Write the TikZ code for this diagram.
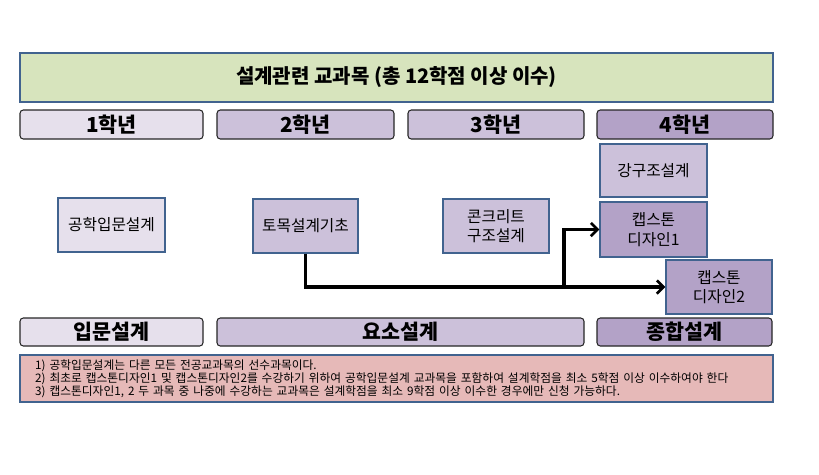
\documentclass[tikz,border=0pt]{standalone}
\usepackage{fontspec}
\setmainfont{Noto Sans CJK KR}
\usetikzlibrary{arrows.meta}
\definecolor{framblue}{HTML}{41638F}
\definecolor{greenfill}{HTML}{D7E4BD}
\definecolor{lilac}{HTML}{E6E0EC}
\definecolor{violet}{HTML}{CCC1DA}
\definecolor{darkviolet}{HTML}{B3A2C7}
\definecolor{rose}{HTML}{E6B9B8}
\begin{document}
\begin{tikzpicture}[x=0.75pt, y=-0.75pt,
	size/.style 2 args = {minimum width=#1*0.75pt, minimum height=#2*0.75pt, inner sep=0pt},
	course/.style = {draw=framblue, line width=0.8pt, align=center,
		font=\fontsize{11.8}{14.5}\selectfont},
	stage/.style = {draw=black!85, line width=0.8pt, rounded corners=2.5pt,
		font=\fontsize{15.5}{18}\selectfont\bfseries},
	flow/.style = {line width=2.5pt, -{Straight Barb[length=5pt, width=10pt, line width=2pt]}}]

	\useasboundingbox (0,0) rectangle (819,475);

	% header
	\node[draw=framblue, line width=0.8pt, fill=greenfill, size={753}{49},
		font=\fontsize{15}{18}\selectfont\bfseries] (total) at (396.5,77.5)
		{설계관련 교과목 (총 12학점 이상 이수)};

	% years
	\node[stage, fill=lilac, size={183}{29}] (year1) at (111.5,124.5) {1학년};
	\node[stage, fill=violet, size={177}{29}] (year2) at (305.5,124.5) {2학년};
	\node[stage, fill=violet, size={176}{29}] (year3) at (496,124.5) {3학년};
	\node[stage, fill=darkviolet, size={176}{29}] (year4) at (685,124.5) {4학년};

	% courses
	\node[course, fill=lilac, size={107}{54}] (intro) at (111.5,225) {공학입문설계};
	\node[course, fill=violet, size={105}{54}] (basics) at (305.5,226) {토목설계기초};
	\node[course, fill=violet, size={106}{54}] (concrete) at (496,226) {콘크리트\\구조설계};
	\node[course, fill=violet, size={107}{53}] (steel) at (653.5,170.5) {강구조설계};
	\node[course, fill=darkviolet, size={107}{55}] (capstone1) at (653.5,229.5) {캡스톤\\디자인1};
	\node[course, fill=darkviolet, size={106}{54}] (capstone2) at (719,287) {캡스톤\\디자인2};

	% categories
	\node[stage, fill=lilac, size={183}{28}] (introdesign) at (111.5,332) {입문설계};
	\node[stage, fill=violet, size={367}{28}] (elemdesign) at (400.5,332) {요소설계};
	\node[stage, fill=darkviolet, size={175}{28}] (synthdesign) at (684.5,332) {종합설계};

	% remarks
	\node[draw=framblue, line width=0.8pt, fill=rose, size={753}{47},
		text width=542pt, align=left, inner xsep=11.25pt,
		font=\fontsize{8.8}{9.8}\selectfont] (remarks) at (396.5,378.5)
		{1) 공학입문설계는 다른 모든 전공교과목의 선수과목이다.\\
		2) 최초로 캡스톤디자인1 및 캡스톤디자인2를 수강하기 위하여 공학입문설계 교과목을 포함하여 설계학점을 최소 5학점 이상 이수하여야 한다\\
		3) 캡스톤디자인1, 2 두 과목 중 나중에 수강하는 교과목은 설계학점을 최소 9학점 이상 이수한 경우에만 신청 가능하다.};

	\coordinate (split) at (564,287);
	\draw[flow] (basics.south) |- (capstone2.west);
	\draw[flow] (split) |- (capstone1.west);
\end{tikzpicture}
\end{document}
